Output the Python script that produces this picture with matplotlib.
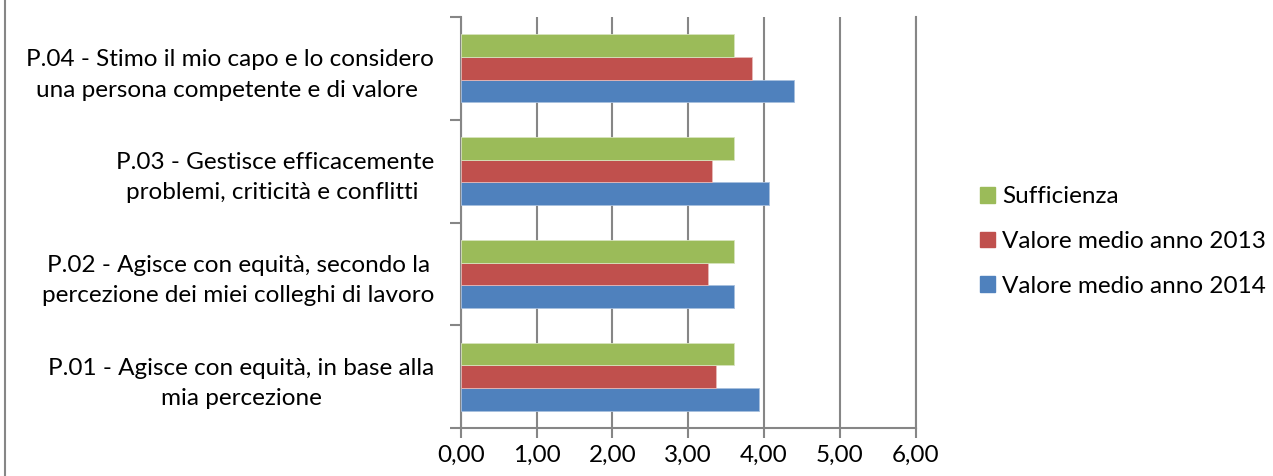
import matplotlib
matplotlib.use('Agg')
import matplotlib.pyplot as plt
from matplotlib.lines import Line2D
from matplotlib.patches import Patch
import numpy as np

categories = [
    'P.01 - Agisce con equità, in base alla\nmia percezione',
    'P.02 - Agisce con equità, secondo la\npercezione dei miei colleghi di lavoro',
    'P.03 - Gestisce efficacemente\nproblemi, criticità e conflitti ',
    'P.04 - Stimo il mio capo e lo considero\nuna persona competente e di valore ',
]
media_2014 = [3.94, 3.61, 4.07, 4.40]
media_2013 = [3.37, 3.26, 3.31, 3.84]
sufficienza = [3.60, 3.60, 3.60, 3.60]
x_ticks = [0, 1, 2, 3, 4, 5, 6]
x_tick_labels = ['0,00', '1,00', '2,00', '3,00', '4,00', '5,00', '6,00']

plt.rcParams['font.family'] = ['Lato', 'DejaVu Sans']

blue = '#4F81BD'
red = '#C0504D'
green = '#9BBB59'
gray = '#868686'
fs = 17.5

fig = plt.figure(figsize=(12.73, 4.76), dpi=100)
ax = fig.add_axes([0.3619, 0.1008, 0.3574, 0.8635])

y = np.arange(len(categories))
h = 0.22
ax.barh(y - h, media_2014, height=h, color=blue, edgecolor='#A7BFDE', linewidth=0.6, zorder=3)
ax.barh(y, media_2013, height=h, color=red, edgecolor='#E6B9B8', linewidth=0.6, zorder=3)
ax.barh(y + h, sufficienza, height=h, color=green, edgecolor='#D7E4BD', linewidth=0.6, zorder=3)

ax.set_xlim(0, 6)
ax.set_ylim(-0.5, len(categories) - 0.5)
ax.set_xticks(x_ticks)
ax.set_xticklabels(x_tick_labels, fontsize=fs)
ax.set_yticks(y)
ax.set_yticklabels(categories, fontsize=fs, ha='right', multialignment='center', linespacing=1.55)
ax.set_yticks(np.arange(-0.5, len(categories)), minor=True)
ax.tick_params(axis='y', which='major', length=0, pad=19)
ax.tick_params(axis='y', which='minor', length=8, width=1.5, color=gray)
ax.tick_params(axis='x', length=7, width=1.5, color=gray, pad=5)

ax.xaxis.grid(True, color=gray, linewidth=1.5, zorder=0)
ax.set_axisbelow(True)
ax.spines['top'].set_visible(False)
for side in ['left', 'bottom', 'right']:
    ax.spines[side].set_color(gray)
    ax.spines[side].set_linewidth(1.5)

handles = [Patch(color=green), Patch(color=red), Patch(color=blue)]
labels = ['Sufficienza', 'Valore medio anno 2013', 'Valore medio anno 2014']
fig.legend(handles, labels, loc='center left', bbox_to_anchor=(0.7526, 0.4926),
           frameon=False, fontsize=fs, handlelength=0.62, handleheight=0.62,
           handletextpad=0.3, labelspacing=0.97)

fig.add_artist(Line2D([5 / 1273, 5 / 1273], [0, 1], color=gray, linewidth=1.5))

fig.savefig('out.png', dpi=100)
